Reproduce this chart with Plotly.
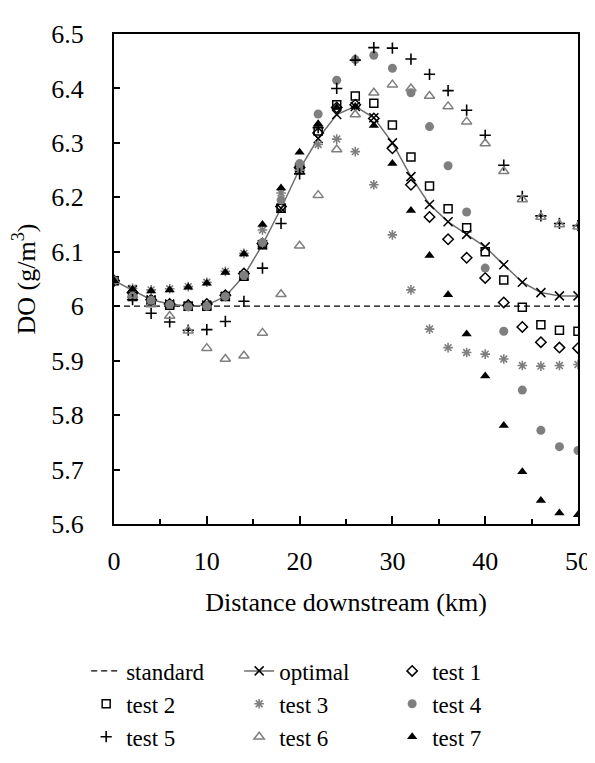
import plotly.graph_objects as go

distance = [0, 2, 4, 6, 8, 10, 12, 14, 16, 18, 20, 22, 24, 26, 28, 30, 32, 34, 36, 38, 40, 42, 44, 46, 48, 50]
standard = [6.0] * len(distance)
optimal = [6.047, 6.030, 6.012, 6.004, 6.000, 6.002, 6.018, 6.056, 6.113, 6.180, 6.252, 6.308, 6.352,
           6.367, 6.346, 6.300, 6.238, 6.187, 6.155, 6.132, 6.109, 6.076, 6.044, 6.025, 6.019, 6.019]
test1 = [6.047, 6.025, 6.012, 6.004, 6.002, 6.004, 6.020, 6.060, 6.115, 6.183, 6.255, 6.318, 6.365,
         6.370, 6.345, 6.290, 6.223, 6.164, 6.123, 6.089, 6.052, 6.007, 5.962, 5.934, 5.924, 5.923]
test2 = [6.047, 6.018, 6.010, 6.002, 6.000, 6.000, 6.018, 6.055, 6.113, 6.180, 6.255, 6.322, 6.370,
         6.386, 6.373, 6.333, 6.274, 6.221, 6.179, 6.144, 6.100, 6.048, 5.998, 5.966, 5.956, 5.954]
test3 = [6.047, 6.033, 6.030, 6.032, 6.036, 6.044, 6.064, 6.097, 6.140, 6.208, 6.250, 6.297, 6.307,
         6.284, 6.223, 6.131, 6.030, 5.958, 5.924, 5.915, 5.912, 5.903, 5.891, 5.890, 5.891, 5.893]
test4 = [6.047, 6.018, 6.011, 6.003, 5.999, 6.000, 6.018, 6.057, 6.117, 6.195, 6.262, 6.353, 6.415,
         6.453, 6.461, 6.437, 6.392, 6.330, 6.258, 6.173, 6.070, 5.954, 5.846, 5.772, 5.742, 5.735]
test5 = [6.047, 6.012, 5.987, 5.971, 5.956, 5.957, 5.972, 6.009, 6.070, 6.152, 6.243, 6.328, 6.400,
         6.452, 6.475, 6.474, 6.454, 6.426, 6.396, 6.360, 6.314, 6.259, 6.202, 6.166, 6.152, 6.148]
test6 = [6.047, 6.020, 6.003, 5.982, 5.955, 5.923, 5.903, 5.909, 5.951, 6.022, 6.111, 6.204, 6.288,
         6.352, 6.392, 6.407, 6.400, 6.386, 6.367, 6.339, 6.299, 6.248, 6.196, 6.164, 6.150, 6.146]
test7 = [6.047, 6.031, 6.028, 6.030, 6.035, 6.042, 6.062, 6.096, 6.150, 6.217, 6.283, 6.335, 6.365,
         6.367, 6.332, 6.262, 6.176, 6.093, 6.021, 5.949, 5.872, 5.781, 5.696, 5.643, 5.620, 5.617]

y_ticks = [5.6, 5.7, 5.8, 5.9, 6.0, 6.1, 6.2, 6.3, 6.4, 6.5]
y_tick_labels = ["5.6", "5.7", "5.8", "5.9", "6", "6.1", "6.2", "6.3", "6.4", "6.5"]
x_ticks = [0, 10, 20, 30, 40, 50]

FONT = "Liberation Serif, Times New Roman, serif"
GRAY = "#7f7f7f"

fig = go.Figure()
fig.add_trace(go.Scatter(x=distance, y=standard, name="standard", mode="lines",
                         line=dict(color="black", width=1.3, dash="6px,4px")))
fig.add_trace(go.Scatter(x=distance, y=optimal, name="optimal", mode="lines+markers",
                         line=dict(color="#6e6e6e", width=1.5),
                         marker=dict(symbol="x-thin-open", size=9, color="black",
                                     line=dict(color="black", width=1.5))))

marker_specs = [
    ("test 1", test1, dict(symbol="diamond-open", size=8, color="black", line=dict(color="black", width=1.5))),
    ("test 2", test2, dict(symbol="square-open", size=8, color="black", line=dict(color="black", width=1.5))),
    ("test 3", test3, dict(symbol="asterisk-open", size=8, color=GRAY, line=dict(color=GRAY, width=1.6))),
    ("test 4", test4, dict(symbol="circle", size=9, color=GRAY, line=dict(width=0))),
    ("test 5", test5, dict(symbol="cross-thin-open", size=8, color="black", line=dict(color="black", width=1.6))),
    ("test 6", test6, dict(symbol="triangle-up-open", size=9, color=GRAY, line=dict(color=GRAY, width=1.5))),
    ("test 7", test7, dict(symbol="triangle-up", size=9, color="black", line=dict(width=0))),
]
for name, vals, mk in marker_specs:
    fig.add_trace(go.Scatter(x=distance, y=vals, name=name, mode="markers", marker=mk))

fig.update_layout(
    width=595, height=763,
    margin=dict(l=106, r=13, t=16, b=236),
    paper_bgcolor="white", plot_bgcolor="white",
    font=dict(family=FONT, size=26, color="black"),
    showlegend=True,
    legend=dict(orientation="h", x=-0.06, xanchor="left", y=-0.256, yanchor="top",
                xref="paper", yref="paper",
                font=dict(family=FONT, size=23, color="black"),
                entrywidth=108, itemwidth=30, bgcolor="rgba(0,0,0,0)"),
    xaxis=dict(range=[0, 50], tickvals=x_ticks, ticks="inside", ticklen=8, tickwidth=1.5,
               tickcolor="black", showline=True, linecolor="black", linewidth=2, mirror=True,
               showgrid=False, zeroline=False, ticklabelstandoff=13,
               minor=dict(dtick=5, ticks="inside", ticklen=5, tickwidth=1.5, tickcolor="black"),
               tickfont=dict(family=FONT, size=26),
               title=dict(text="Distance downstream (km)", font=dict(family=FONT, size=26), standoff=18)),
    yaxis=dict(range=[5.6, 6.5], tickvals=y_ticks, ticktext=y_tick_labels, ticks="inside", ticklen=6,
               tickwidth=1.5, tickcolor="black", showline=True, linecolor="black", linewidth=2,
               mirror=True, showgrid=False, zeroline=False, ticklabelstandoff=23,
               tickfont=dict(family=FONT, size=26),
               title=dict(text="DO (g/m<sup>3</sup>)", font=dict(family=FONT, size=26), standoff=12)),
)

fig.write_html("out.html")
